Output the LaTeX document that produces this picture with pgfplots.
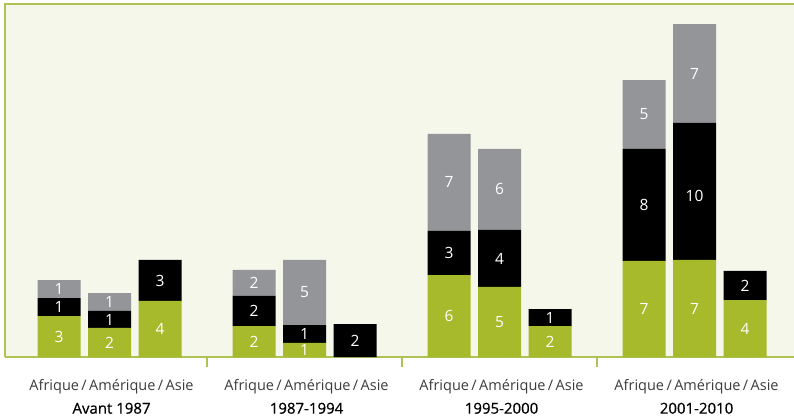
\documentclass[border=0pt]{standalone}
\usepackage{pgfplots}
\usepackage{pgfplotstable}
\pgfplotsset{compat=1.18}
\usepackage{fontspec}
\setmainfont{Open Sans}
\newfontfamily\semib[FakeBold=0.6]{Open Sans}
\definecolor{cgreen}{HTML}{A6BA2B}
\definecolor{cgray}{HTML}{939598}
\definecolor{cbg}{HTML}{F6F7EB}
\definecolor{cline}{HTML}{AFC254}
\definecolor{ctext}{HTML}{3C3C3C}

\pgfplotstableread{
x green black gray
-0.259 2.95 1.29 1.29
0 2.09 1.22 1.29
0.259 4.03 2.95 0
0.741 2.23 2.16 1.87
1 1.01 1.29 4.68
1.259 0 2.37 0
1.741 5.90 3.17 6.98
2 5.04 4.10 5.83
2.259 2.23 1.22 0
2.741 6.91 8.06 4.96
3 6.98 9.86 7.12
3.259 4.10 2.09 0
}\bars

\pgfplotstableread{
x y label
-0.259 1.475 3
-0.259 3.595 1
-0.259 4.885 1
0 1.045 2
0 2.70 1
0 3.955 1
0.259 2.015 4
0.259 5.505 3
0.741 1.115 2
0.741 3.31 2
0.741 5.325 2
1 0.505 1
1 1.655 1
1 4.64 5
1.259 1.185 2
1.741 2.95 6
1.741 7.485 3
1.741 12.56 7
2 2.52 5
2 7.09 4
2 12.055 6
2.259 1.115 2
2.259 2.84 1
2.741 3.455 7
2.741 10.94 8
2.741 17.45 5
3 3.49 7
3 11.6 10
3 20.40 7
3.259 2.05 4
3.259 5.145 2
}\labels

\pgfplotsset{base/.style={at={(5bp,63bp)}, anchor=south west, scale only axis,
  width=789bp, height=353bp, xmin=-0.536, xmax=3.51, ymin=0, ymax=25.4}}

\begin{document}
\begin{tikzpicture}
\useasboundingbox (0,0) rectangle (794bp,420bp);
\begin{axis}[base, ybar stacked, bar width=0.2205,
  axis background/.style={fill=cbg},
  axis x line=bottom, axis y line=none,
  x axis line style={cline, line width=2bp, -},
  xtick={0,1,2,3},
  xticklabels={
    {{\color{ctext}Afrique\,/\,Amérique\,/\,Asie}\\{\semib\fontsize{15bp}{18bp}\selectfont Avant 1987}},
    {{\color{ctext}Afrique\,/\,Amérique\,/\,Asie}\\{\semib\fontsize{15bp}{18bp}\selectfont 1987-1994}},
    {{\color{ctext}Afrique\,/\,Amérique\,/\,Asie}\\{\semib\fontsize{15bp}{18bp}\selectfont 1995-2000}},
    {{\color{ctext}Afrique\,/\,Amérique\,/\,Asie}\\{\semib\fontsize{15bp}{18bp}\selectfont 2001-2010}}},
  xticklabel style={align=center, font=\fontsize{14.5bp}{23bp}\selectfont, text=black, yshift=-19bp, xshift=2bp},
  major tick length=0pt,
  minor xtick={0.5,1.5,2.5},
  minor tick length=10bp,
  tick align=outside,
  minor tick style={cline, line width=2bp},
  ytick=\empty,
  clip=false,
]
\addplot[fill=cgreen, draw=none] table[x=x, y=green] {\bars};
\addplot[fill=black, draw=none] table[x=x, y=black] {\bars};
\addplot[fill=cgray, draw=none] table[x=x, y=gray] {\bars};
\draw[cline, line width=2bp] (rel axis cs:1,1) -- (rel axis cs:0,1) -- (rel axis cs:0,0);
\end{axis}
\begin{axis}[base, axis lines=none, xtick=\empty, ytick=\empty]
\addplot[draw=none, mark=none, nodes near coords, point meta=explicit symbolic,
  every node near coord/.style={anchor=center, text=white, font=\fontsize{15.5bp}{18bp}\selectfont}]
  table[x=x, y=y, meta=label] {\labels};
\end{axis}
\end{tikzpicture}
\end{document}
